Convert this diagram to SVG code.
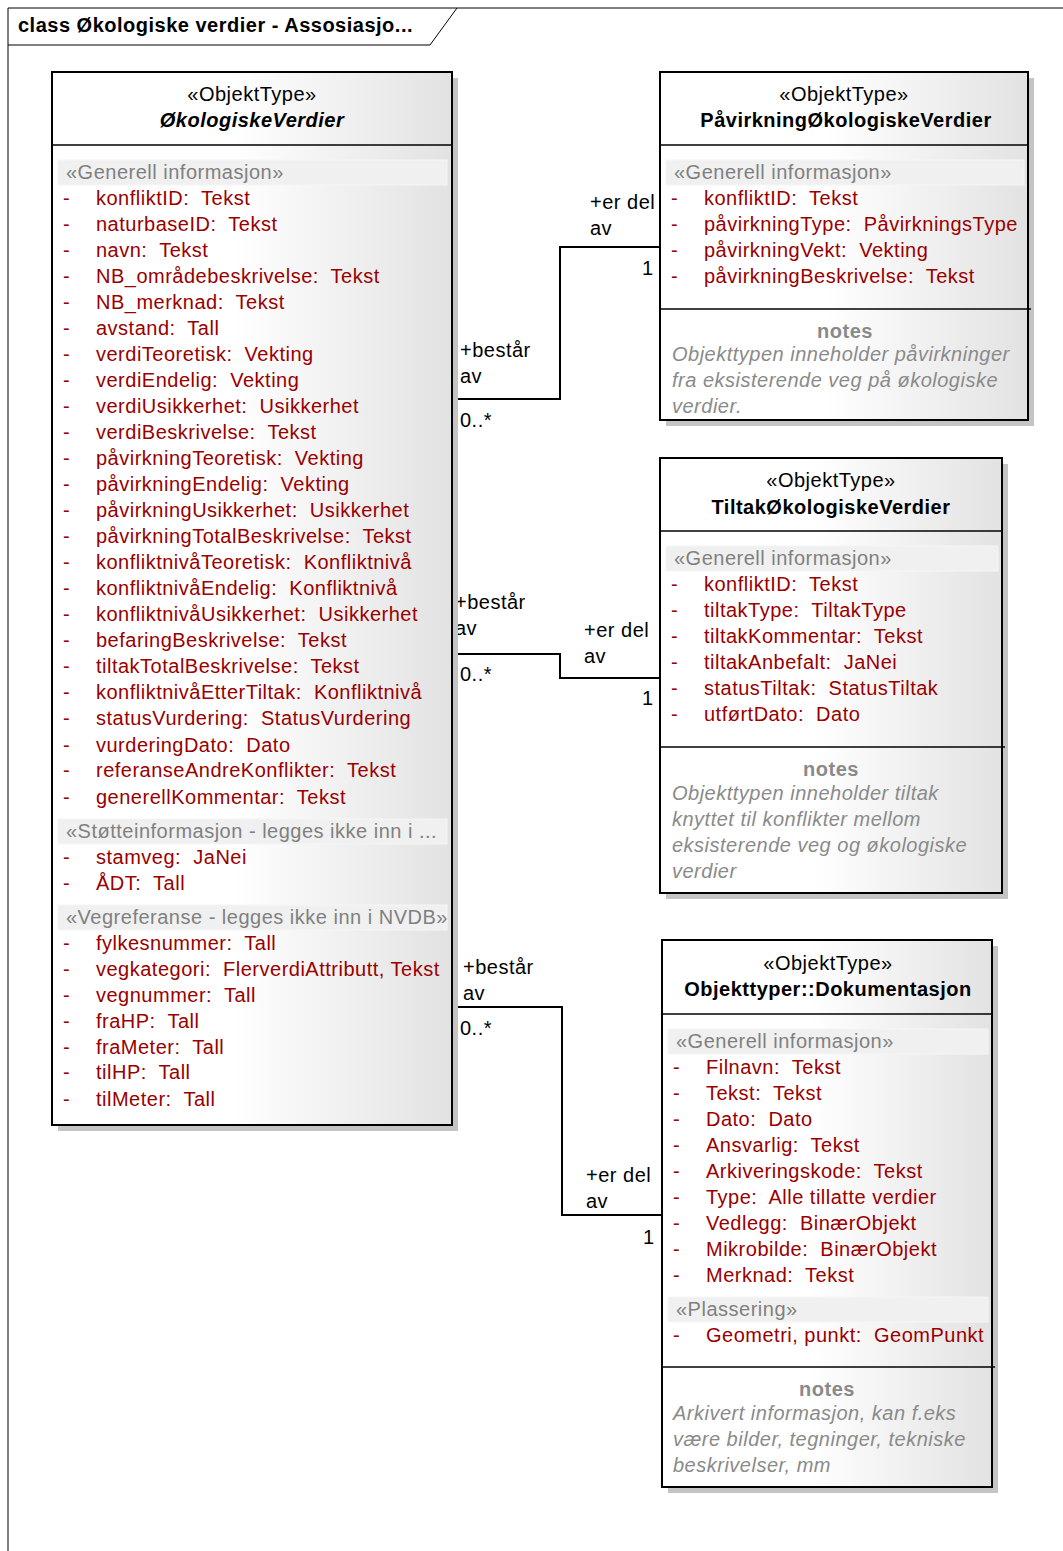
<svg xmlns="http://www.w3.org/2000/svg" width="1063" height="1551" viewBox="0 0 1063 1551" xml:space="preserve">
<defs>
<linearGradient id="g" x1="0" y1="0" x2="1" y2="0">
<stop offset="0" stop-color="#ffffff"/>
<stop offset="0.45" stop-color="#ffffff"/>
<stop offset="1" stop-color="#e2e2e2"/>
</linearGradient>
</defs>
<style>
text{font-family:"Liberation Sans",Arial,sans-serif;font-size:20px;letter-spacing:0.5px;white-space:pre;}
.box{fill:url(#g);stroke:#000;stroke-width:2;}
.sh{fill:#c4c4c4;}
.div{stroke:#000;stroke-width:1.6;}
.st{text-anchor:middle;fill:#000;}
.nm{text-anchor:middle;font-weight:bold;fill:#000;}
.sec{fill:#f0f0f0;stroke:#f6f6f6;}
.sect{fill:#808080;}
.at{fill:#990000;}
.nh{text-anchor:middle;font-weight:bold;fill:#8a8a8a;}
.nt{font-style:italic;fill:#8a8a8a;}
.lbl{fill:#000;}
.cn{fill:none;stroke:#000;stroke-width:2;}
</style>
<rect width="1063" height="1551" fill="#fff"/>
<g id="frame">
<path d="M8,1551 L8,8 L1063,8" fill="none" stroke="#000" stroke-width="1"/>
<path d="M8,45 L430,45 L457,8" fill="none" stroke="#000" stroke-width="1"/>
<text x="18" y="32" style="font-weight:bold">class Økologiske verdier - Assosiasjo...</text>
</g>
<g id="connectors">
<path class="cn" d="M452,399 L560,399 L560,247 L660,247"/>
<path class="cn" d="M452,654 L560,654 L560,678 L660,678"/>
<path class="cn" d="M452,1007 L562,1007 L562,1215 L662,1215"/>
<text class="lbl" x="460" y="357">+består</text>
<text class="lbl" x="460" y="383">av</text>
<text class="lbl" x="460" y="427">0..*</text>
<text class="lbl" x="590" y="209">+er del</text>
<text class="lbl" x="590" y="235">av</text>
<text class="lbl" x="642" y="275">1</text>
<text class="lbl" x="455" y="609">+består</text>
<text class="lbl" x="455" y="635">av</text>
<text class="lbl" x="460" y="681">0..*</text>
<text class="lbl" x="584" y="637">+er del</text>
<text class="lbl" x="584" y="663">av</text>
<text class="lbl" x="642" y="705">1</text>
<text class="lbl" x="463" y="974">+består</text>
<text class="lbl" x="463" y="1000">av</text>
<text class="lbl" x="460" y="1035">0..*</text>
<text class="lbl" x="586" y="1182">+er del</text>
<text class="lbl" x="586" y="1208">av</text>
<text class="lbl" x="643" y="1244">1</text>
</g>
<g id="OkologiskeVerdier">
<rect class="sh" x="58" y="78" width="400" height="1053"/>
<rect class="box" x="52" y="72" width="400" height="1053"/>
<line class="div" x1="52" y1="145" x2="452" y2="145"/>
<text class="st" x="252" y="101">«ObjektType»</text>
<text class="nm" x="252" y="127" font-style="italic">ØkologiskeVerdier</text>
<rect class="sec" x="58" y="160" width="389" height="25"/>
<text class="sect" x="66" y="179">«Generell informasjon»</text>
<g class="at">
<text x="63" y="205">-</text><text x="96" y="205">konfliktID:  Tekst</text>
<text x="63" y="231">-</text><text x="96" y="231">naturbaseID:  Tekst</text>
<text x="63" y="257">-</text><text x="96" y="257">navn:  Tekst</text>
<text x="63" y="283">-</text><text x="96" y="283">NB_områdebeskrivelse:  Tekst</text>
<text x="63" y="309">-</text><text x="96" y="309">NB_merknad:  Tekst</text>
<text x="63" y="335">-</text><text x="96" y="335">avstand:  Tall</text>
<text x="63" y="361">-</text><text x="96" y="361">verdiTeoretisk:  Vekting</text>
<text x="63" y="387">-</text><text x="96" y="387">verdiEndelig:  Vekting</text>
<text x="63" y="413">-</text><text x="96" y="413">verdiUsikkerhet:  Usikkerhet</text>
<text x="63" y="439">-</text><text x="96" y="439">verdiBeskrivelse:  Tekst</text>
<text x="63" y="465">-</text><text x="96" y="465">påvirkningTeoretisk:  Vekting</text>
<text x="63" y="491">-</text><text x="96" y="491">påvirkningEndelig:  Vekting</text>
<text x="63" y="517">-</text><text x="96" y="517">påvirkningUsikkerhet:  Usikkerhet</text>
<text x="63" y="543">-</text><text x="96" y="543">påvirkningTotalBeskrivelse:  Tekst</text>
<text x="63" y="569">-</text><text x="96" y="569">konfliktnivåTeoretisk:  Konfliktnivå</text>
<text x="63" y="595">-</text><text x="96" y="595">konfliktnivåEndelig:  Konfliktnivå</text>
<text x="63" y="621">-</text><text x="96" y="621">konfliktnivåUsikkerhet:  Usikkerhet</text>
<text x="63" y="647">-</text><text x="96" y="647">befaringBeskrivelse:  Tekst</text>
<text x="63" y="673">-</text><text x="96" y="673">tiltakTotalBeskrivelse:  Tekst</text>
<text x="63" y="699">-</text><text x="96" y="699">konfliktnivåEtterTiltak:  Konfliktnivå</text>
<text x="63" y="725">-</text><text x="96" y="725">statusVurdering:  StatusVurdering</text>
<text x="63" y="752">-</text><text x="96" y="752">vurderingDato:  Dato</text>
<text x="63" y="777">-</text><text x="96" y="777">referanseAndreKonflikter:  Tekst</text>
<text x="63" y="804">-</text><text x="96" y="804">generellKommentar:  Tekst</text>
</g>
<rect class="sec" x="58" y="819" width="389" height="25"/>
<text class="sect" x="66" y="838">«Støtteinformasjon - legges ikke inn i ...</text>
<g class="at">
<text x="63" y="864">-</text><text x="96" y="864">stamveg:  JaNei</text>
<text x="63" y="890">-</text><text x="96" y="890">ÅDT:  Tall</text>
</g>
<rect class="sec" x="58" y="905" width="389" height="25"/>
<text class="sect" x="66" y="924">«Vegreferanse - legges ikke inn i NVDB»</text>
<g class="at">
<text x="63" y="950">-</text><text x="96" y="950">fylkesnummer:  Tall</text>
<text x="63" y="976">-</text><text x="96" y="976">vegkategori:  FlerverdiAttributt, Tekst</text>
<text x="63" y="1002">-</text><text x="96" y="1002">vegnummer:  Tall</text>
<text x="63" y="1028">-</text><text x="96" y="1028">fraHP:  Tall</text>
<text x="63" y="1054">-</text><text x="96" y="1054">fraMeter:  Tall</text>
<text x="63" y="1079">-</text><text x="96" y="1079">tilHP:  Tall</text>
<text x="63" y="1106">-</text><text x="96" y="1106">tilMeter:  Tall</text>
</g>
</g>
<g id="PavirkningOkologiskeVerdier">
<rect class="sh" x="666" y="78" width="368" height="348"/>
<rect class="box" x="660" y="72" width="368" height="348"/>
<line class="div" x1="660" y1="145" x2="1028" y2="145"/>
<text class="st" x="844" y="101">«ObjektType»</text>
<text class="nm" x="846" y="127">PåvirkningØkologiskeVerdier</text>
<rect class="sec" x="666" y="160" width="358" height="25"/>
<text class="sect" x="674" y="179">«Generell informasjon»</text>
<g class="at">
<text x="671" y="205">-</text><text x="704" y="205">konfliktID:  Tekst</text>
<text x="671" y="231">-</text><text x="704" y="231">påvirkningType:  PåvirkningsType</text>
<text x="671" y="257">-</text><text x="704" y="257">påvirkningVekt:  Vekting</text>
<text x="671" y="283">-</text><text x="704" y="283">påvirkningBeskrivelse:  Tekst</text>
</g>
<line class="div" x1="660" y1="309" x2="1031" y2="309"/>
<text class="nh" x="845" y="338">notes</text>
<text class="nt" x="672" y="361">Objekttypen inneholder påvirkninger</text>
<text class="nt" x="672" y="387">fra eksisterende veg på økologiske</text>
<text class="nt" x="672" y="413">verdier.</text>
</g>
<g id="TiltakOkologiskeVerdier">
<rect class="sh" x="666" y="464" width="342" height="435"/>
<rect class="box" x="660" y="458" width="342" height="435"/>
<line class="div" x1="660" y1="531" x2="1002" y2="531"/>
<text class="st" x="831" y="487">«ObjektType»</text>
<text class="nm" x="831" y="514">TiltakØkologiskeVerdier</text>
<rect class="sec" x="666" y="546" width="332" height="25"/>
<text class="sect" x="674" y="565">«Generell informasjon»</text>
<g class="at">
<text x="671" y="591">-</text><text x="704" y="591">konfliktID:  Tekst</text>
<text x="671" y="617">-</text><text x="704" y="617">tiltakType:  TiltakType</text>
<text x="671" y="643">-</text><text x="704" y="643">tiltakKommentar:  Tekst</text>
<text x="671" y="669">-</text><text x="704" y="669">tiltakAnbefalt:  JaNei</text>
<text x="671" y="695">-</text><text x="704" y="695">statusTiltak:  StatusTiltak</text>
<text x="671" y="721">-</text><text x="704" y="721">utførtDato:  Dato</text>
</g>
<line class="div" x1="660" y1="747" x2="1005" y2="747"/>
<text class="nh" x="831" y="776">notes</text>
<text class="nt" x="672" y="800">Objekttypen inneholder tiltak</text>
<text class="nt" x="672" y="826">knyttet til konflikter mellom</text>
<text class="nt" x="672" y="852">eksisterende veg og økologiske</text>
<text class="nt" x="672" y="878">verdier</text>
</g>
<g id="Dokumentasjon">
<rect class="sh" x="668" y="946" width="330" height="547"/>
<rect class="box" x="662" y="940" width="330" height="547"/>
<line class="div" x1="662" y1="1014" x2="992" y2="1014"/>
<text class="st" x="828" y="970">«ObjektType»</text>
<text class="nm" x="828" y="996">Objekttyper::Dokumentasjon</text>
<rect class="sec" x="668" y="1029" width="320" height="25"/>
<text class="sect" x="676" y="1048">«Generell informasjon»</text>
<g class="at">
<text x="673" y="1074">-</text><text x="706" y="1074">Filnavn:  Tekst</text>
<text x="673" y="1100">-</text><text x="706" y="1100">Tekst:  Tekst</text>
<text x="673" y="1126">-</text><text x="706" y="1126">Dato:  Dato</text>
<text x="673" y="1152">-</text><text x="706" y="1152">Ansvarlig:  Tekst</text>
<text x="673" y="1178">-</text><text x="706" y="1178">Arkiveringskode:  Tekst</text>
<text x="673" y="1204">-</text><text x="706" y="1204">Type:  Alle tillatte verdier</text>
<text x="673" y="1230">-</text><text x="706" y="1230">Vedlegg:  BinærObjekt</text>
<text x="673" y="1256">-</text><text x="706" y="1256">Mikrobilde:  BinærObjekt</text>
<text x="673" y="1282">-</text><text x="706" y="1282">Merknad:  Tekst</text>
</g>
<rect class="sec" x="668" y="1297" width="320" height="25"/>
<text class="sect" x="676" y="1316">«Plassering»</text>
<g class="at">
<text x="673" y="1342">-</text><text x="706" y="1342">Geometri, punkt:  GeomPunkt</text>
</g>
<line class="div" x1="662" y1="1367" x2="995" y2="1367"/>
<text class="nh" x="827" y="1396">notes</text>
<text class="nt" x="673" y="1420">Arkivert informasjon, kan f.eks</text>
<text class="nt" x="673" y="1446">være bilder, tegninger, tekniske</text>
<text class="nt" x="673" y="1472">beskrivelser, mm</text>
</g>
</svg>
